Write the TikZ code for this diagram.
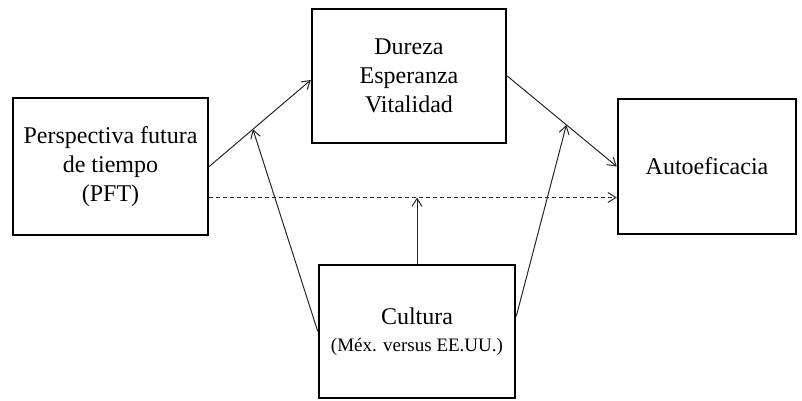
\documentclass[tikz,border=0pt]{standalone}
\usepackage{fontspec}
\setmainfont{Liberation Serif}
\usetikzlibrary{arrows.meta, positioning, calc}

\newcommand{\culsize}{\fontsize{9.5}{11}\selectfont}

\begin{document}
\begin{tikzpicture}[
    x=0.5pt, y=-0.5pt,
    every node/.style={font=\fontsize{12}{14.5}\selectfont},
    var/.style={
        rectangle, draw=black,
        line width=1.2pt,
        inner sep=0pt,
        align=center
    },
    arr/.style={
        -{Straight Barb[length=4pt,width=5pt]},
        line width=0.5pt,
        color=black!85
    },
    darr/.style={
        arr, dash pattern=on 2pt off 1.5pt
    }
]

\useasboundingbox (0,0) rectangle (802,401);

%% ── Variables ───────────────────────────────────────────────────────
\node[var, minimum width=195*0.5pt, minimum height=137*0.5pt]
    (pft) at (110.5, 166.5) {Perspectiva futura\\de tiempo\\(PFT)};
\node[var, minimum width=194*0.5pt, minimum height=134*0.5pt]
    (med) at (409, 76) {Dureza\\Esperanza\\Vitalidad};
\node[var, minimum width=178*0.5pt, minimum height=135*0.5pt]
    (aut) at (707, 166.5) {Autoeficacia};
\node[var, minimum width=196*0.5pt, minimum height=133*0.5pt]
    (cul) at (417, 331.5) {Cultura\\[-1pt]{\culsize (Méx. versus EE.UU.)}};

%% ── Paths ───────────────────────────────────────────────────────────
\draw[arr] (pft.east) -- coordinate[pos=0.43] (m1) ($(med.west)+(0,4)$);
\draw[arr] (med.east) -- coordinate[pos=0.54] (m2) (aut.west);
\draw[darr] ($(pft.east)+(0,31)$) -- coordinate (d0) ($(aut.west)+(0,31)$);

%% ── Moderation by culture ───────────────────────────────────────────
\draw[arr] (cul.north) -- (cul.north |- d0);
\draw[arr] (cul.west) -- (m1);
\draw[arr] ($(cul.east)+(0,-15)$) -- (m2);

\end{tikzpicture}
\end{document}
